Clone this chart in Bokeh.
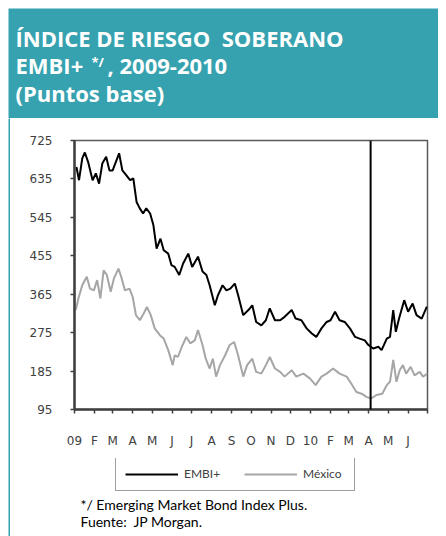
from datetime import datetime
import pandas as pd
from bokeh.plotting import figure
from bokeh.layouts import column, row
from bokeh.models import (FixedTicker, Legend, LegendItem, Range1d, ColumnDataSource, Span)
from bokeh.core.properties import value
from bokeh.embed import file_html
from bokeh.resources import INLINE

# ---------------- data (days counted from 2009-01-01, spread in basis points) ----------------
start_date = "2009-01-01"
embi_days = [3, 7, 12, 16, 21, 28, 33, 38, 43, 49, 54, 59, 64, 69, 74, 80, 86, 91, 96, 101,
             106, 111, 117, 122, 127, 133, 138, 145, 150, 155, 162, 168, 176, 182, 191, 198,
             204, 209, 217, 222, 229, 235, 241, 248, 253, 261, 269, 275, 281, 289, 296, 302,
             310, 318, 325, 336, 342, 351, 359, 367, 374, 382, 390, 396, 403, 410, 418, 426,
             434, 441, 449, 454, 462, 470, 475, 483, 488, 493, 497, 502, 510, 516, 523, 529,
             537, 545]
embi_vals = [663, 632, 683, 697, 675, 632, 648, 624, 671, 687, 655, 655, 675, 695, 655, 644,
             632, 636, 581, 566, 554, 566, 554, 527, 472, 495, 468, 460, 433, 429, 410, 437,
             460, 429, 453, 418, 410, 386, 339, 363, 386, 374, 378, 390, 363, 316, 328, 339,
             300, 292, 304, 332, 304, 304, 312, 328, 308, 304, 285, 273, 265, 285, 300, 304,
             324, 304, 300, 285, 265, 261, 257, 247, 238, 242, 234, 261, 265, 328, 277, 308,
             351, 324, 343, 316, 308, 336]

mex_days = [2, 6, 12, 19, 24, 30, 35, 40, 45, 50, 56, 61, 68, 73, 78, 85, 90, 95, 101, 107,
            112, 118, 124, 132, 138, 145, 152, 155, 160, 166, 173, 179, 186, 191, 198, 203,
            209, 214, 219, 225, 233, 240, 247, 253, 261, 267, 275, 281, 289, 296, 302, 310,
            318, 325, 336, 343, 354, 364, 373, 382, 390, 400, 410, 421, 428, 436, 444, 452,
            459, 467, 476, 483, 488, 493, 498, 503, 508, 513, 520, 526, 534, 539, 546]
mex_vals = [328, 355, 386, 406, 378, 374, 398, 355, 421, 410, 371, 402, 425, 402, 374, 378,
            359, 316, 304, 320, 335, 316, 285, 269, 261, 234, 199, 222, 218, 242, 265, 250,
            257, 281, 246, 214, 191, 214, 172, 199, 222, 246, 253, 222, 172, 199, 214, 183,
            179, 199, 218, 191, 183, 172, 187, 172, 179, 168, 152, 172, 179, 191, 179, 172,
            156, 136, 132, 124, 121, 129, 132, 152, 160, 211, 160, 187, 199, 179, 195, 175,
            183, 172, 179]

y_ticks = [95, 185, 275, 365, 455, 545, 635, 725]
month_labels = ["09", "F", "M", "A", "M", "J", "J", "A", "S", "O", "N", "D",
                "10", "F", "M", "A", "M", "J", ""]
marker_date = "2010-04-04"
series_names = ["EMBI+", "México"]
title_lines = ["ÍNDICE DE RIESGO \u00a0SOBERANO", "EMBI+", "*/", ", 2009-2010", "(Puntos base)"]
notes = ["*/ Emerging Market Bond Index Plus.", "Fuente: \u00a0JP Morgan."]

# ---------------- styling ----------------
TEAL = "#36A2AF"
AXC = "#404040"
COLORS = ["black", "#A6A6A6"]
W = 438
HEAD_H, MAIN_H, FOOT_H = 110, 340, 78
STRIP_W = 2
INNER_W = W - STRIP_W
BL, BR, BT = 64, 19, 22
FRAME_W = INNER_W - BL - BR


def to_dates(days):
    return pd.Timestamp(start_date) + pd.to_timedelta(days, unit="D")


def blank_fig(w, h, xr, yr, bg):
    f = figure(width=w, height=h, output_backend="svg", toolbar_location=None,
               x_range=Range1d(*xr), y_range=Range1d(*yr),
               x_axis_location=None, y_axis_location=None,
               min_border=0, min_border_left=0, min_border_right=0,
               min_border_top=0, min_border_bottom=0)
    f.background_fill_color = bg
    f.border_fill_color = bg
    f.outline_line_color = None
    f.grid.visible = False
    return f


# ---------------- header ----------------
hdr = blank_fig(W, HEAD_H, (0, W), (HEAD_H, 0), TEAL)
hsrc = ColumnDataSource(dict(x=[7, 7, 83, 99, 7], y=[29.5, 56.5, 53, 56.5, 84.5],
                             t=title_lines, s=["22px", "22px", "13px", "22px", "22px"]))
hdr.text("x", "y", text="t", source=hsrc, text_color="white",
         text_font=value("Open Sans"), text_font_style="bold", text_font_size="s",
         text_baseline="middle", text_align="left")

# ---------------- left strip ----------------
strip = blank_fig(STRIP_W, MAIN_H + FOOT_H, (0, 1), (0, 1), TEAL)

# ---------------- main chart ----------------
p = figure(width=INNER_W, height=MAIN_H, output_backend="svg", toolbar_location=None,
           x_axis_type="datetime",
           x_range=Range1d(datetime(2009, 1, 1), datetime(2010, 7, 1)),
           y_range=Range1d(95, 725),
           min_border_left=BL, min_border_right=BR, min_border_top=BT,
           min_border_bottom=MAIN_H - BT - 269)
p.background_fill_color = "white"
p.border_fill_color = "white"
p.outline_line_color = "#595959"
p.outline_line_width = 1.5
p.xgrid.visible = False
p.ygrid.visible = False

src_e = ColumnDataSource(dict(x=to_dates(embi_days), y=embi_vals))
src_m = ColumnDataSource(dict(x=to_dates(mex_days), y=mex_vals))
p.line("x", "y", source=src_m, line_color=COLORS[1], line_width=2)
p.line("x", "y", source=src_e, line_color=COLORS[0], line_width=2)

mk = pd.Timestamp(marker_date).timestamp() * 1000
p.add_layout(Span(location=mk, dimension="height", line_color="black", line_width=2))

month_starts = pd.date_range("2009-01-01", "2010-07-01", freq="MS")
tick_ms = [int(t.timestamp() * 1000) for t in month_starts]
p.xaxis.ticker = FixedTicker(ticks=tick_ms)
p.xaxis.major_label_overrides = {t: lab for t, lab in zip(tick_ms, month_labels)}
p.yaxis.ticker = FixedTicker(ticks=y_ticks)
for ax in (p.xaxis, p.yaxis):
    ax.axis_line_color = AXC
    ax.axis_line_width = 2.5
    ax.major_tick_line_color = AXC
    ax.major_tick_line_width = 1.5
    ax.major_tick_out = 4
    ax.major_tick_in = 0
    ax.minor_tick_line_color = None
    ax.major_label_text_color = AXC
    ax.major_label_text_font = "DejaVu Sans"
    ax.major_label_text_font_size = "12px"
p.yaxis.major_label_standoff = 18
p.xaxis.major_label_standoff = 20

# ---------------- footer: legend + notes ----------------
# (its frame is aligned with the chart frame by the column layout)
ftr = blank_fig(INNER_W, FOOT_H, (0, FRAME_W), (FOOT_H, 0), "white")
# same series drawn in the footer (they fall outside its range) so the legend has its samples
lr = [ftr.line(x=to_dates(d), y=v, line_color=c, line_width=2)
      for d, v, c in zip([embi_days, mex_days], [embi_vals, mex_vals], COLORS)]
legend = Legend(items=[LegendItem(label=n, renderers=[r]) for n, r in zip(series_names, lr)],
                orientation="horizontal", location=(41, FOOT_H - 33),
                glyph_width=53, glyph_height=14, label_standoff=6, spacing=18,
                padding=9, margin=0, label_width=42, label_height=14,
                label_text_font="Lato", label_text_font_size="12px",
                label_text_color=AXC, border_line_color=AXC, border_line_width=1.5,
                background_fill_color="white")
ftr.add_layout(legend)
fsrc = ColumnDataSource(dict(x=[6, 6], y=[45.5, 63], t=notes))
ftr.text("x", "y", text="t", source=fsrc, text_color="black",
         text_font=value("Lato"), text_font_size="14px",
         text_baseline="middle", text_align="left")

layout = column(hdr, row(strip, column(p, ftr, spacing=0), spacing=0), spacing=0)

html = file_html(layout, INLINE)
html = html.replace("<body>", '<body style="margin:8px;overflow:hidden">')
open("out.html", "w").write(html)
